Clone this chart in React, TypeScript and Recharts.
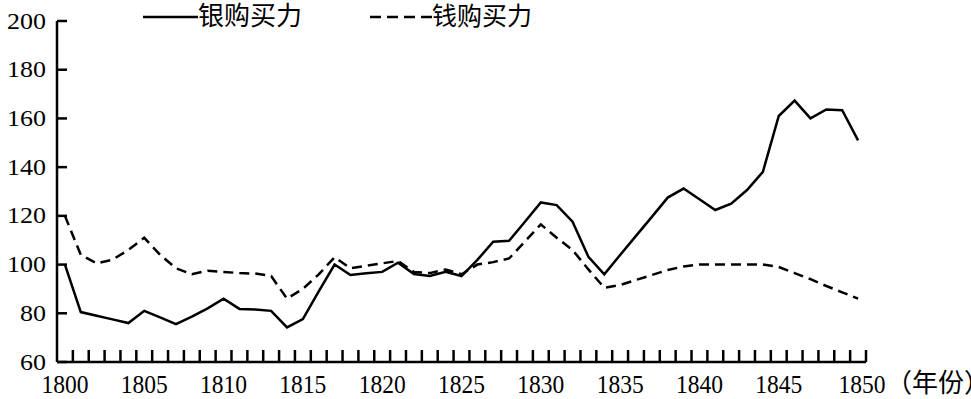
import React from 'react';
import { LineChart, Line, XAxis, YAxis } from 'recharts';

const years = [
  1800, 1801, 1802, 1803, 1804, 1805, 1806, 1807, 1808, 1809,
  1810, 1811, 1812, 1813, 1814, 1815, 1816, 1817, 1818, 1819,
  1820, 1821, 1822, 1823, 1824, 1825, 1826, 1827, 1828, 1829,
  1830, 1831, 1832, 1833, 1834, 1835, 1836, 1837, 1838, 1839,
  1840, 1841, 1842, 1843, 1844, 1845, 1846, 1847, 1848, 1849, 1850,
];

const silverPower = [
  100, 80.5, 79, 77.5, 76, 81, 78.3, 75.5, 78.6, 82,
  86, 81.8, 81.6, 81, 74.2, 77.6, 89, 100, 95.7, 96.4,
  97, 100.8, 96.1, 95.3, 97, 95.3, 101.9, 109.4, 109.8, 117.6,
  125.5, 124.4, 117.6, 103.2, 96, 103.9, 111.8, 119.6, 127.5, 131.2,
  126.8, 122.4, 125, 130.6, 138.1, 161, 167.3, 160, 163.7, 163.4, 151,
];

const copperPower = [
  120, 104, 100.5, 102, 106, 111, 104, 98.5, 96, 97.5,
  97, 96.5, 96.3, 95.3, 86, 90, 96, 103, 98.5, 99.5,
  100.5, 101.5, 97, 96.5, 98, 96, 100, 101, 102.5, 109.5,
  116.5, 111, 106, 98, 90.5, 91.6, 93.7, 95.7, 97.8, 99.2,
  100, 100, 100, 100, 100, 99, 96.5, 94, 91.2, 88.6, 86,
];

const yTicks = [60, 80, 100, 120, 140, 160, 180, 200];
const seriesNames = ['银购买力', '钱购买力'];
const xUnit = '（年份）';

const data = years.map((y, i) => ({ year: y, silver: silverPower[i], copper: copperPower[i] }));

const SERIF = 'Liberation Serif';
const CJK = 'Noto Sans CJK SC';

const XTick = (props: any) => {
  const { x, y, payload, width, visibleTicksCount } = props;
  const half = width / visibleTicksCount / 2;
  const yr = payload.value;
  const last = yr === years[years.length - 1];
  const lx = last ? x + 4 : x;
  return (
    <g>
      <line x1={x + half} x2={x + half} y1={y} y2={y - 12} stroke="#000" strokeWidth={2.5} />
      {yr % 5 === 0 && (
        <text
          x={lx}
          y={y + 31}
          textAnchor="middle"
          textLength={47}
          lengthAdjust="spacingAndGlyphs"
          fontFamily={SERIF}
          fontSize={25}
          fill="#000"
        >
          {yr}
        </text>
      )}
      {last && (
        <text x={x + 28} y={y + 29.5} textAnchor="start" fontFamily={CJK} fontSize={26} fill="#000">
          {xUnit}
        </text>
      )}
    </g>
  );
};

const YTick = (props: any) => {
  const { x, y, payload } = props;
  const label = String(payload.value);
  return (
    <g>
      <line x1={x} x2={x + 10} y1={y} y2={y} stroke="#000" strokeWidth={2.5} />
      <text
        x={x - 11}
        y={y + 7.5}
        textAnchor="end"
        textLength={label.length * 13}
        lengthAdjust="spacingAndGlyphs"
        fontFamily={SERIF}
        fontSize={23}
        fill="#000"
      >
        {label}
      </text>
    </g>
  );
};

export default function App() {
  return (
    <div style={{ position: 'relative', width: 971, height: 399, background: '#fff' }}>
      <style>{`body{margin:0;background:#fff}`}</style>
      <LineChart
        width={971}
        height={399}
        data={data}
        margin={{ top: 21, right: 105, left: 0, bottom: 0 }}
      >
        <XAxis
          dataKey="year"
          type="number"
          domain={[years[0] - 0.5, years[years.length - 1] + 0.5]}
          ticks={years}
          interval={0}
          height={37}
          tickSize={0}
          tickMargin={0}
          tickLine={false}
          axisLine={{ stroke: '#000', strokeWidth: 2.5 }}
          tick={<XTick />}
        />
        <YAxis
          type="number"
          domain={[60, 200]}
          ticks={yTicks}
          interval={0}
          width={57}
          tickSize={0}
          tickMargin={0}
          tickLine={false}
          axisLine={{ stroke: '#000', strokeWidth: 2.5 }}
          tick={<YTick />}
        />
        <Line
          type="linear"
          dataKey="copper"
          stroke="#000"
          strokeWidth={2.5}
          strokeDasharray="10 6"
          dot={false}
          isAnimationActive={false}
        />
        <Line
          type="linear"
          dataKey="silver"
          stroke="#000"
          strokeWidth={2.5}
          dot={false}
          isAnimationActive={false}
        />
      </LineChart>
      <svg
        width={971}
        height={40}
        style={{ position: 'absolute', left: 0, top: 0, pointerEvents: 'none' }}
      >
        <line x1={143} x2={198} y1={17} y2={17} stroke="#000" strokeWidth={2.5} />
        <text x={198} y={25} fontFamily={CJK} fontSize={26} fill="#000">{seriesNames[0]}</text>
        <line x1={370} x2={432} y1={17} y2={17} stroke="#000" strokeWidth={2.5} strokeDasharray="11 6" />
        <text x={432} y={25} fontFamily={CJK} fontSize={25} fill="#000">{seriesNames[1]}</text>
      </svg>
    </div>
  );
}
